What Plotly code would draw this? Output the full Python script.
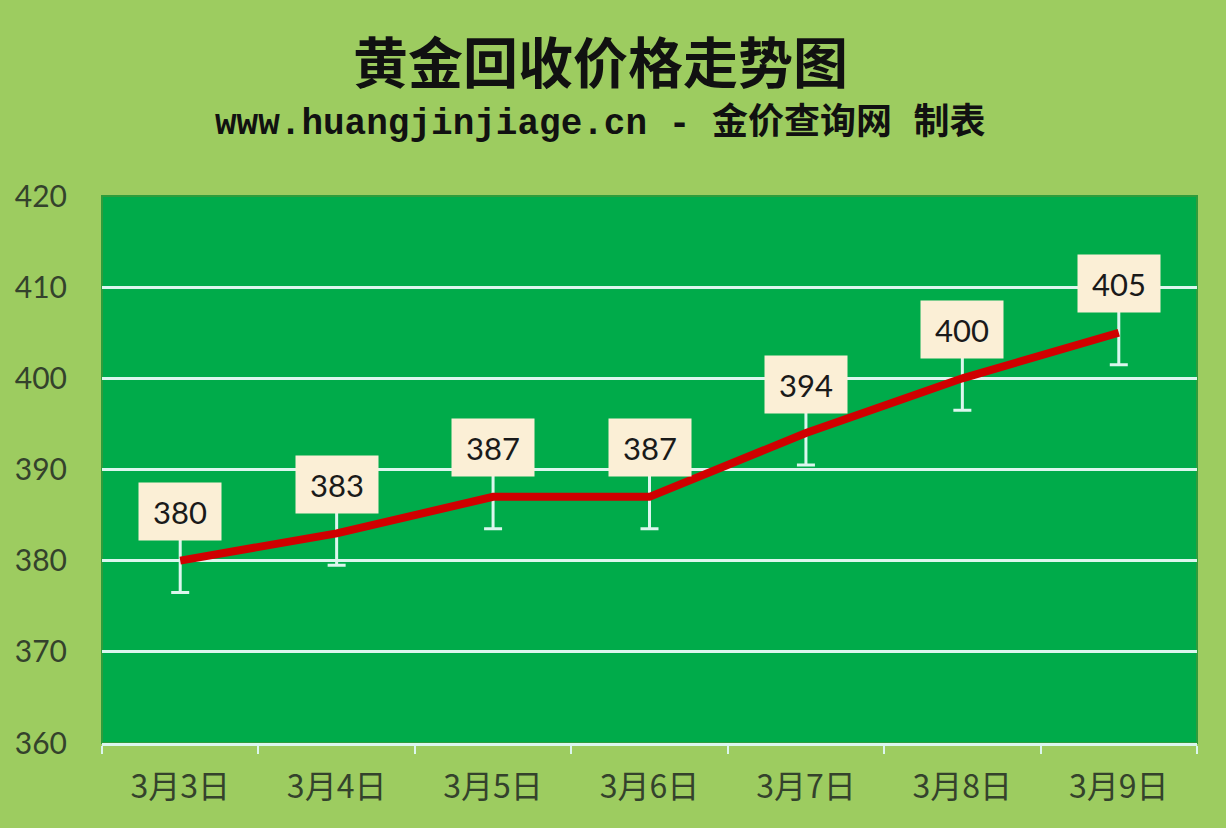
import plotly.graph_objects as go

# data
dates = ["3月3日", "3月4日", "3月5日", "3月6日", "3月7日", "3月8日", "3月9日"]
prices = [380, 383, 387, 387, 394, 400, 405]
err = [3.5, 3.5, 3.5, 3.5, 3.5, 3.5, 3.5]

pageBg = "#9dcc60"
plotBg = "#00ab4a"
gridCol = "#dcf6ee"
labelBg = "#fbefd6"

fig = go.Figure()

# error bars first so the red line sits on top
fig.add_trace(go.Scatter(
    x=dates, y=prices, mode="markers",
    marker=dict(size=1, color="rgba(0,0,0,0)"),
    error_y=dict(type="data", array=err, symmetric=True,
                 color=gridCol, thickness=3, width=9),
    hoverinfo="skip", showlegend=False))

fig.add_trace(go.Scatter(
    x=dates, y=prices, mode="lines",
    line=dict(color="#d00000", width=8),
    showlegend=False))

for d, p in zip(dates, prices):
    fig.add_annotation(x=d, y=p, text=str(p), showarrow=False,
                       yshift=49, width=80, height=55,
                       bgcolor=labelBg,
                       font=dict(family="Lato, Open Sans", size=31, color="#1a1a1a"))

fig.add_annotation(xref="paper", yref="paper", x=0.455, y=1.0, yshift=137,
                   yanchor="middle",
                   text="<b>黄金回收价格走势图</b>", showarrow=False,
                   font=dict(family="Noto Sans CJK SC", size=55, color="#111111"))
fig.add_annotation(xref="paper", yref="paper", x=0.455, y=1.0, yshift=73,
                   yanchor="middle",
                   text="<b>www.huangjinjiage.cn - 金价查询网 制表</b>", showarrow=False,
                   font=dict(family="Liberation Mono, Noto Sans CJK SC", size=36, color="#111111"))

# plot area border
fig.add_shape(type="rect", xref="paper", yref="paper", x0=0, y0=0, x1=1, y1=1,
              line=dict(color="#2f9c3c", width=2), layer="below")

fig.update_xaxes(
    type="category", range=[-0.5, 6.5], tickson="boundaries", ticks="outside",
    ticklen=8, tickwidth=2, tickcolor=gridCol, showline=True, linecolor=gridCol,
    linewidth=3, showgrid=False, ticklabelstandoff=14,
    tickfont=dict(family="Noto Sans CJK SC", size=32, color="#34422c"))
fig.update_yaxes(
    range=[360, 420], dtick=10, showgrid=True, gridcolor=gridCol,
    gridwidth=3, zeroline=False, showline=False, ticklabelstandoff=34,
    tickfont=dict(family="Lato, Open Sans", size=30, color="#34422c"))

fig.update_layout(
    width=1226, height=828,
    paper_bgcolor=pageBg, plot_bgcolor=plotBg,
    margin=dict(l=102, r=29, t=196, b=85),
    showlegend=False)

fig.write_html("out.html", config={"displayModeBar": False},
               post_script="document.body.style.margin='0';")
